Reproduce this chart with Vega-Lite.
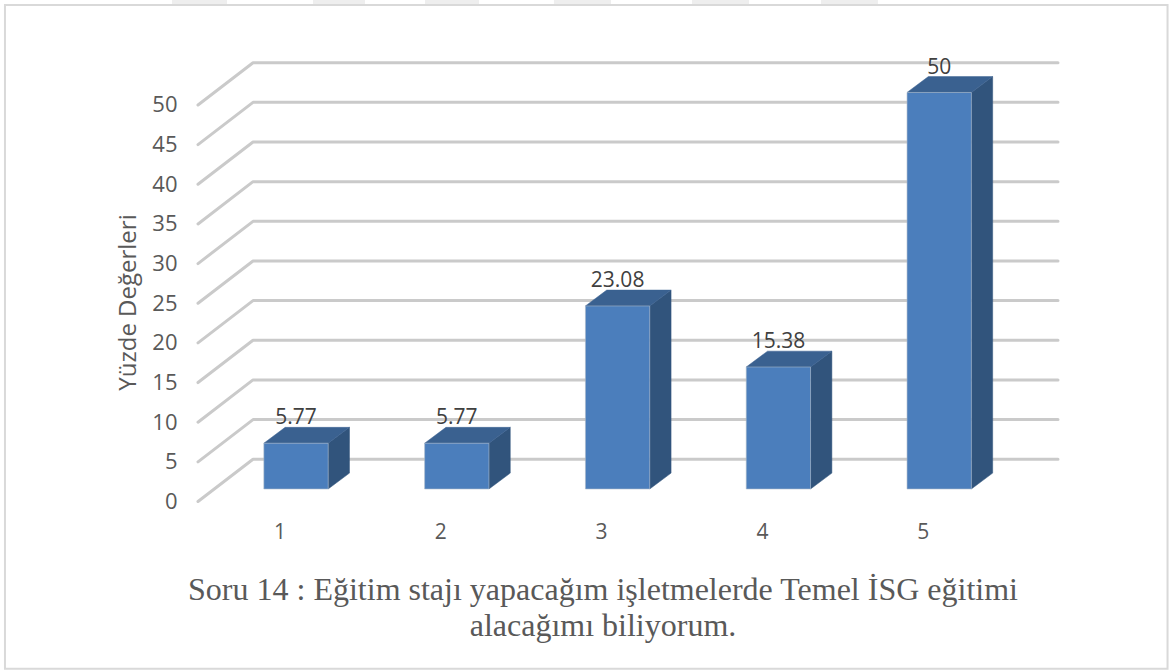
{
"$schema":"https://vega.github.io/schema/vega-lite/v6.json",
"width":860,"height":439.5,
"autosize":"none",
"padding":{"left":198,"top":62,"right":114,"bottom":169.5},
"background":"white",
"config":{"view":{"stroke":null},"font":"Open Sans"},
"title":{"text":["Soru 14 : Eğitim stajı yapacağım işletmelerde Temel İSG eğitimi","alacağımı biliyorum."],"orient":"bottom","anchor":"middle","dx":-25,"offset":-95,"font":"Liberation Serif","fontSize":32,"fontWeight":"normal","color":"#595959","lineHeight":36},
"datasets":{
"bars":[{"category":1,"value":5.77},{"category":2,"value":5.77},{"category":3,"value":23.08},{"category":4,"value":15.38},{"category":5,"value":50}],
"ticks":[{"tick":0},{"tick":5},{"tick":10},{"tick":15},{"tick":20},{"tick":25},{"tick":30},{"tick":35},{"tick":40},{"tick":45},{"tick":50}],
"watermark":[{"from":0.229,"to":0.571},{"from":1.106,"to":1.429},{"from":1.802,"to":2.138},{"from":2.604,"to":2.959},{"from":3.463,"to":3.817},{"from":4.265,"to":4.619}]
},
"encoding":{
"x":{"type":"quantitative","scale":{"domain":[0.3905,5.7388],"nice":false,"zero":false},"axis":{"values":[1,2,3,4,5],"format":"d","title":null,"domain":false,"ticks":false,"grid":false,"labelPadding":20,"labelOffset":-16.5,"labelFont":"Open Sans","labelFontSize":21,"labelColor":"#595959"}},
"y":{"type":"quantitative","stack":null,"scale":{"domain":[0,55.42],"nice":false,"zero":false},"axis":{"values":[0,5,10,15,20,25,30,35,40,45,50],"format":"d","title":"Yüzde Değerleri","titleFont":"Open Sans","titleFontSize":24,"titleFontWeight":"normal","titleColor":"#595959","titleX":-70,"titleY":240,"titleAlign":"center","titleBaseline":"middle","titleAngle":-90,"domain":false,"ticks":false,"grid":false,"labelPadding":21,"labelOffset":0,"labelFont":"Open Sans","labelFontSize":22,"labelColor":"#595959"}}
},
"layer":[
{"data":{"name":"ticks"},
"transform":[{"calculate":"[0,1,2]","as":"pt"},{"flatten":["pt"]},{"calculate":"datum.pt==0?0.3905:datum.pt==1?0.7326:5.7388","as":"gx"},{"calculate":"datum.tick+(datum.pt==0?0:5.33)","as":"gy"}],
"mark":{"type":"line","stroke":"#cacaca","strokeWidth":3,"strokeCap":"round","strokeJoin":"round","clip":false},
"encoding":{"x":{"field":"gx"},"y":{"field":"gy"},"detail":{"field":"tick"},"order":{"field":"pt"}}},
{"data":{"name":"watermark"},"transform":[{"calculate":"63.3","as":"wy"},{"calculate":"62.6","as":"wy2"}],"mark":{"type":"rect","fill":"#eeeeee"},
"encoding":{"x":{"field":"from"},"x2":{"field":"to"},"y":{"field":"wy"},"y2":{"field":"wy2"}}},
{"data":{"values":[{"left":-0.81,"right":6.42,"bottom":-21.1,"top":62.6}]},"mark":{"type":"rect","fill":"white","fillOpacity":0,"stroke":"#d9d9d9","strokeWidth":2},
"encoding":{"x":{"field":"left"},"x2":{"field":"right"},"y":{"field":"bottom"},"y2":{"field":"top"}}},
{"data":{"name":"bars"},
"transform":[{"calculate":"[0,1]","as":"pts"},{"flatten":["pts"]},{"calculate":"datum.category+0.2+datum.pts*0.1325","as":"sx"},{"calculate":"1.58+datum.pts*2","as":"sy"},{"calculate":"1.58+datum.value+datum.pts*2","as":"sy2"}],
"mark":{"type":"area","fill":"#31547c","stroke":"#31547c","strokeWidth":0.5,"orient":"vertical"},
"encoding":{"x":{"field":"sx"},"y":{"field":"sy"},"y2":{"field":"sy2"},"detail":{"field":"category","type":"nominal"}}},
{"data":{"name":"bars"},
"transform":[{"calculate":"[0,1]","as":"ptt"},{"flatten":["ptt"]},{"calculate":"datum.category-0.2+datum.ptt*0.1325","as":"tx"},{"calculate":"datum.category+0.2+datum.ptt*0.1325","as":"tx2"},{"calculate":"1.58+datum.value+datum.ptt*2","as":"ty"}],
"mark":{"type":"area","fill":"#3a6190","stroke":"#3a6190","strokeWidth":0.5,"orient":"horizontal"},
"encoding":{"y":{"field":"ty"},"x":{"field":"tx","stack":null},"x2":{"field":"tx2"},"detail":{"field":"category","type":"nominal"}}},
{"data":{"name":"bars"},
"transform":[{"calculate":"datum.category-0.2","as":"fx"},{"calculate":"datum.category+0.2","as":"fx2"},{"calculate":"1.58+datum.value","as":"fy"},{"calculate":"1.58","as":"fy2"}],
"mark":{"type":"rect","fill":"#4b7ebc","stroke":"#a9b8c9","strokeWidth":0.6},
"encoding":{"x":{"field":"fx"},"x2":{"field":"fx2"},"y":{"field":"fy"},"y2":{"field":"fy2"}}},
{"data":{"name":"bars"},
"transform":[{"calculate":"3.58+datum.value","as":"ly"}],
"mark":{"type":"text","font":"Open Sans","fontSize":21,"color":"#404040","baseline":"alphabetic","dy":-3,"align":"center"},
"encoding":{"x":{"field":"category"},"y":{"field":"ly"},"text":{"field":"value","type":"nominal"}}}
]
}
